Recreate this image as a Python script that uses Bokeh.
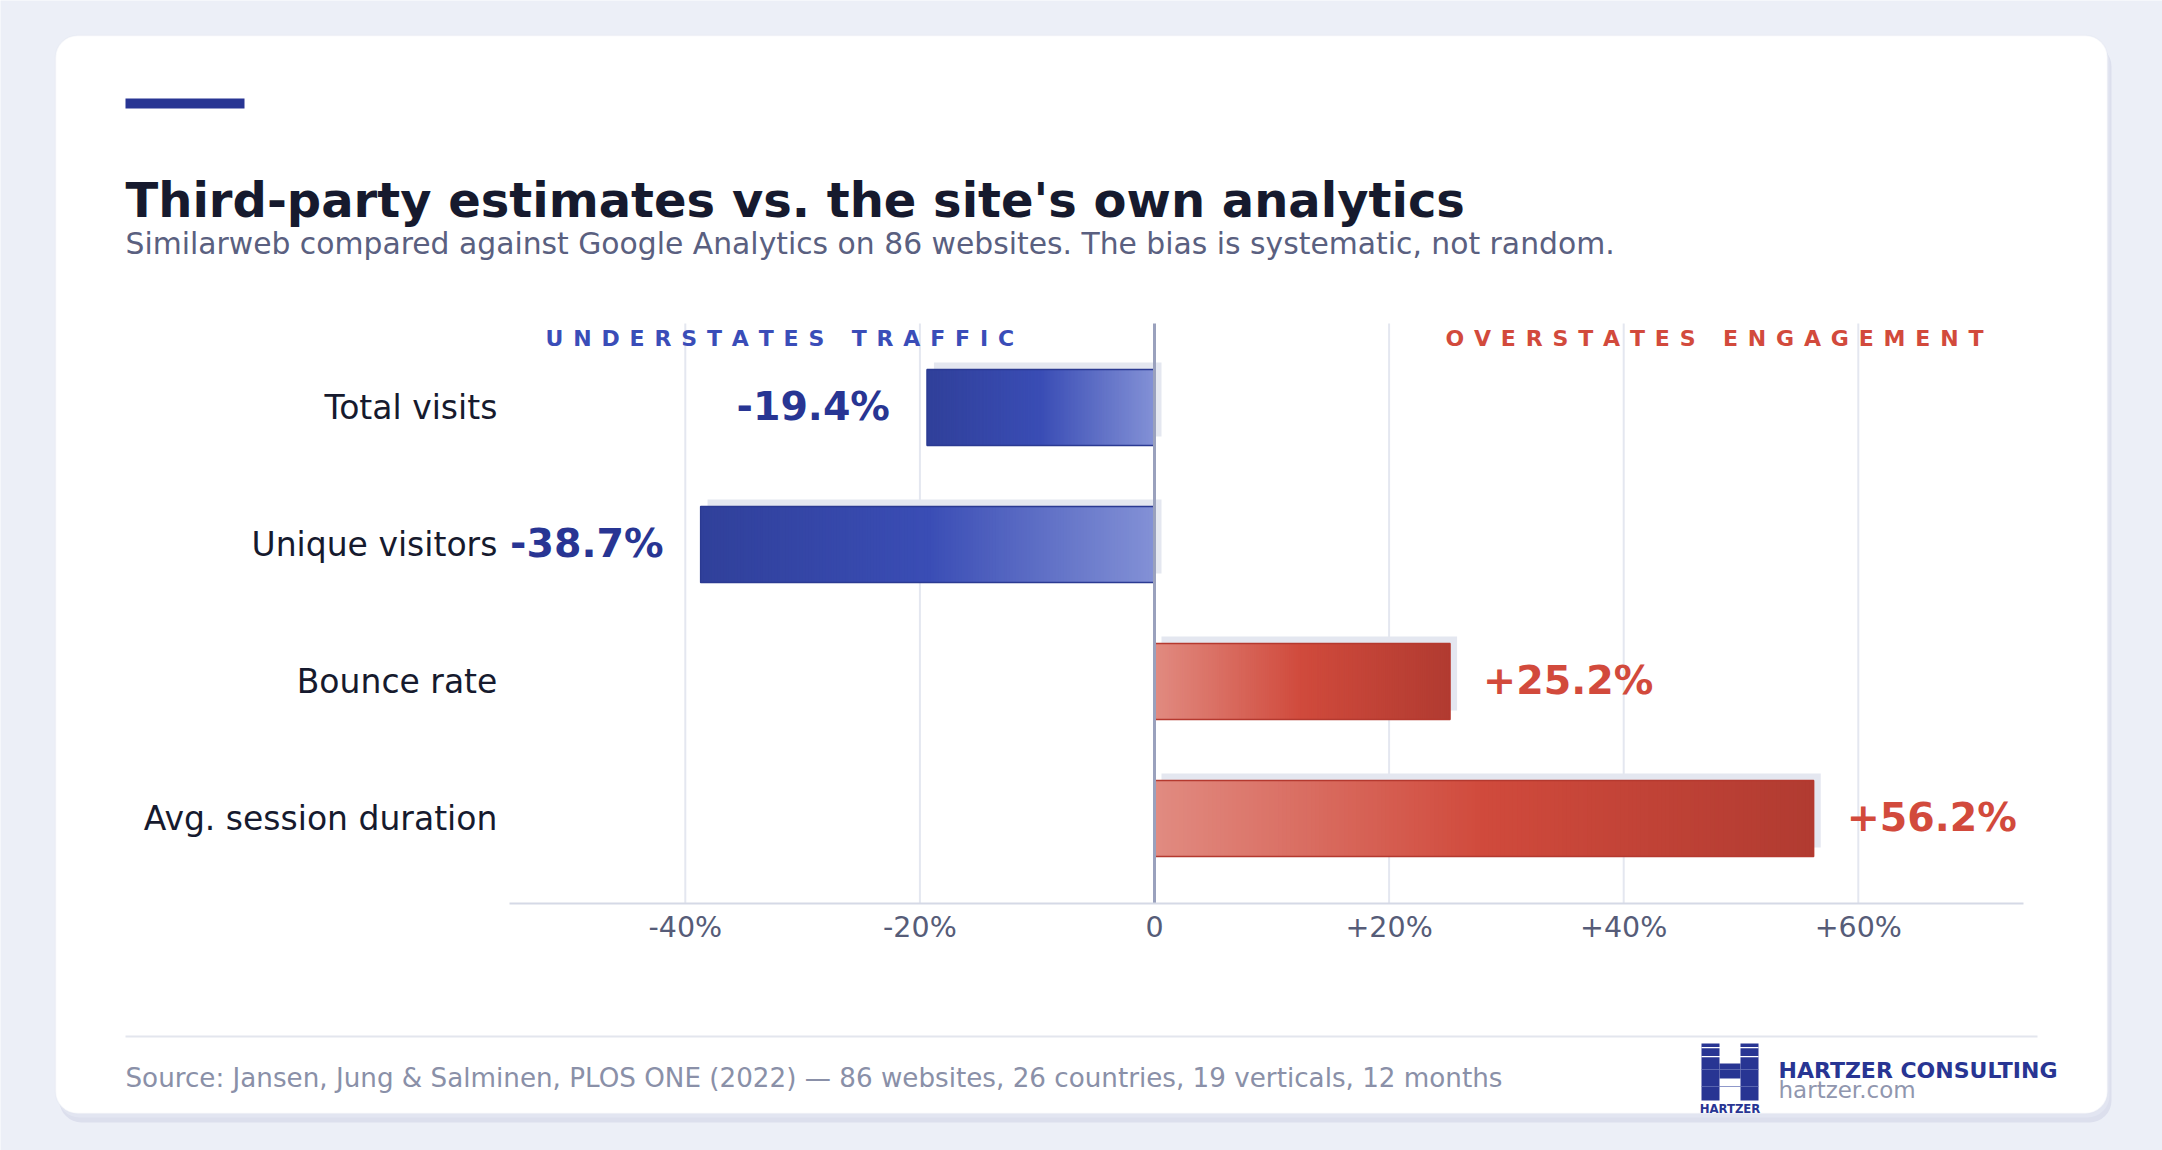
import re
from bokeh.plotting import figure
from bokeh.models import (ColumnDataSource, Range1d, FixedTicker, BoxAnnotation, Label)
from bokeh.core.properties import value
from bokeh.embed import file_html
from bokeh.resources import INLINE

# ---------------- data ----------------
metrics = ["Total visits", "Unique visitors", "Bounce rate", "Avg. session duration"]
deviation = [-19.4, -38.7, 25.2, 56.2]          # Similarweb vs Google Analytics, %
tick_values = [-40, -20, 0, 20, 40, 60]
tick_labels = ["-40%", "-20%", "0", "+20%", "+40%", "+60%"]
x_domain = (-55, 74.07)

title_text = "Third-party estimates vs. the site's own analytics"
subtitle_text = ("Similarweb compared against Google Analytics on 86 websites. "
                 "The bias is systematic, not random.")
left_header = "UNDERSTATES TRAFFIC"
right_header = "OVERSTATES ENGAGEMENT"
source_text = ("Source: Jansen, Jung & Salminen, PLOS ONE (2022) \u2014 86 websites, "
               "26 countries, 19 verticals, 12 months")
brand_name = "HARTZER CONSULTING"
brand_url = "hartzer.com"
brand_mark = "HARTZER"

# ---------------- style / layout ----------------
FONT = "DejaVu Sans"
PAGE_BG = "#eceff7"
INK = "#161a2e"
BLUE_TXT = "#283593"
RED_TXT = "#d24a3c"
BLUE_STOPS = [(0.0, "#8391d6"), (0.5, "#3a4db5"), (1.0, "#30409a")]
RED_STOPS = [(0.0, "#e18b81"), (0.5, "#d04a3c"), (1.0, "#b13b31")]

W, H = 2162, 1150
ZERO_X = 1154          # page x of the 0% line
PX_PCT = 11.73         # pixels per percentage point
FIRST_Y = 407          # page y of first category centre
PX_CAT = 137.0         # pixels between categories
n = len(metrics)
ypos = [n - 1 - i for i in range(n)]            # top category highest
Y_LO, Y_HI = -0.6204, n - 1 + 0.6131            # vertical extent of plot area (category units)


def sx(X):
    return X


def sy(Y):
    return H - Y


def hex2rgb(h):
    h = h.lstrip("#")
    return tuple(int(h[i:i + 2], 16) for i in (0, 2, 4))


def interp(stops, t):
    for (t0, c0), (t1, c1) in zip(stops[:-1], stops[1:]):
        if t0 <= t <= t1:
            f = (t - t0) / (t1 - t0)
            a, b = hex2rgb(c0), hex2rgb(c1)
            return "#%02x%02x%02x" % tuple(round(a[k] + (b[k] - a[k]) * f) for k in range(3))
    return stops[-1][1]


bottom_page = FIRST_Y + (n - 1) * PX_CAT
p = figure(width=W, height=H,
           x_range=Range1d(-ZERO_X / PX_PCT, (W - ZERO_X) / PX_PCT),
           y_range=Range1d((bottom_page - H) / PX_CAT, bottom_page / PX_CAT),
           output_backend="svg", toolbar_location=None,
           min_border_left=0, min_border_right=0, min_border_top=0, min_border_bottom=0)
p.border_fill_color = PAGE_BG
p.background_fill_color = PAGE_BG
p.outline_line_color = None
p.xgrid.visible = False
p.ygrid.visible = False


def box(l, r, t, b, color, level="annotation", **kw):
    p.add_layout(BoxAnnotation(left=sx(l), right=sx(r), top=sy(t), bottom=sy(b),
                               left_units="screen", right_units="screen", top_units="screen",
                               bottom_units="screen", fill_color=color, fill_alpha=1,
                               level=level, **kw))


# ---------------- card ----------------
box(59, 2111, 44, 1122, "#dcdfed", level="image", line_color=None, border_radius=22)
box(57, 2109, 40, 1117, "#e2e5f1", level="image", line_color=None, border_radius=22)
box(55, 2107, 35, 1113, "white", level="image", line_color="#e1e4ef", line_width=1.5,
    border_radius=22)
box(125, 244, 98, 108, BLUE_TXT, line_color=None)

BASE_FIX = 0.33   # renderer places "alphabetic" labels ~0.33em low; compensate


def label(text, X, Y, size, color, bold=False, align="left", font=FONT):
    Y = Y - BASE_FIX * size
    p.add_layout(Label(x=sx(X), y=sy(Y), x_units="screen", y_units="screen", text=text,
                       text_font=font, text_font_size="%gpx" % size, text_color=color,
                       text_font_style="bold" if bold else "normal",
                       text_align=align, text_baseline="alphabetic"))


label(title_text, 125, 215, 48, INK, bold=True)
label(subtitle_text, 125, 253, 29.8, "#5a6080")

# ---------------- axes & grid ----------------
p.xaxis.fixed_location = Y_LO
p.xaxis.bounds = x_domain
p.xaxis.ticker = FixedTicker(ticks=tick_values)
p.xaxis.major_label_overrides = dict(zip(tick_values, tick_labels))
p.xaxis.axis_line_color = "#d5d9e6"
p.xaxis.axis_line_width = 2
p.xaxis.major_tick_line_color = None
p.xaxis.minor_tick_line_color = None
p.xaxis.major_label_text_font = FONT
p.xaxis.major_label_text_font_size = "28.5px"
p.xaxis.major_label_text_color = "#565c78"
p.xaxis.major_label_standoff = 2

p.yaxis.fixed_location = x_domain[0]
p.yaxis.ticker = FixedTicker(ticks=ypos)
p.yaxis.major_label_overrides = dict(zip(ypos, metrics))
p.yaxis.axis_line_color = None
p.yaxis.major_tick_line_color = None
p.yaxis.minor_tick_line_color = None
p.yaxis.major_label_text_font = FONT
p.yaxis.major_label_text_font_size = "33px"
p.yaxis.major_label_text_color = INK
p.yaxis.major_label_standoff = 6

grid_x = [t for t in tick_values if t != 0]
p.segment(x0=grid_x, x1=grid_x, y0=[Y_LO] * len(grid_x), y1=[Y_HI] * len(grid_x),
          line_color="#e4e7f0", line_width=2)

# ---------------- bars ----------------
BAR_H = 76 / PX_CAT
SH_DX = 7 / PX_PCT
SH_DY = 8 / PX_CAT

p.hbar(y=[y + SH_DY for y in ypos],
       left=[min(0, v) + SH_DX for v in deviation],
       right=[max(0, v) + SH_DX for v in deviation],
       height=74 / PX_CAT, fill_color="#e4e7f0", line_color=None)

N = 160
seg = dict(y=[], left=[], right=[], color=[])
for yv, v in zip(ypos, deviation):
    stops = BLUE_STOPS if v < 0 else RED_STOPS
    for i in range(N):
        a = v * i / N
        b = v * min(i + 2.5, N) / N        # slices overlap to hide seams
        seg["y"].append(yv)
        seg["left"].append(min(a, b))
        seg["right"].append(max(a, b))
        seg["color"].append(interp(stops, (i + 0.5) / N))
p.hbar(y="y", left="left", right="right", height=BAR_H, source=ColumnDataSource(seg),
       fill_color="color", line_color=None)

p.hbar(y=ypos, left=[min(0, v) for v in deviation], right=[max(0, v) for v in deviation],
       height=BAR_H, fill_color=None,
       line_color=["#2b3a92" if v < 0 else "#b5392f" for v in deviation], line_width=1.3)

p.segment(x0=[0], x1=[0], y0=[Y_LO], y1=[Y_HI], line_color="#9aa1bd", line_width=3)

# ---------------- value labels ----------------
TXT_DY = 2 / PX_CAT
neg = ColumnDataSource(dict(y=[yv + TXT_DY for yv, v in zip(ypos, deviation) if v < 0],
                            x=[v for v in deviation if v < 0],
                            t=["%+.1f%%" % v for v in deviation if v < 0]))
pos = ColumnDataSource(dict(y=[yv + TXT_DY for yv, v in zip(ypos, deviation) if v >= 0],
                            x=[v for v in deviation if v >= 0],
                            t=["%+.1f%%" % v for v in deviation if v >= 0]))
p.text(x="x", y="y", text="t", source=neg,
       text_align="right", text_baseline="middle", x_offset=-37,
       text_font=value(FONT), text_font_style="bold", text_font_size="39.5px",
       text_color=BLUE_TXT)
p.text(x="x", y="y", text="t", source=pos,
       text_align="left", text_baseline="middle", x_offset=33,
       text_font=value(FONT), text_font_style="bold", text_font_size="39.5px",
       text_color=RED_TXT)

# ---------------- headers (letter-spaced) ----------------
LGAP = "\u00a0\u200a"
WGAP = "\u00a0\u200a\u00a0\u00a0\u200a"


def spaced(s):
    return WGAP.join(LGAP.join(w) for w in s.split(" "))


label(spaced(left_header), 545, 345, 22, "#3a4db8", bold=True)
label(spaced(right_header), 1983, 345, 22, RED_TXT, bold=True, align="right")

# ---------------- footer ----------------
box(125, 2037, 1035, 1037, "#e3e6ee", line_color=None)
label(source_text, 125, 1086, 26.2, "#8a90a8")
label(brand_name, 1778, 1077, 22, BLUE_TXT, bold=True)
label(brand_url, 1778, 1097, 23, "#9096ae")

# logo mark: a striped "H"
for (l, r, t, b, c) in [(1701, 1719, 1043, 1100, BLUE_TXT), (1740, 1758, 1043, 1100, BLUE_TXT),
                        (1719, 1740, 1063, 1078, BLUE_TXT),
                        (1701, 1758, 1046.5, 1047.8, "white"), (1701, 1758, 1055.5, 1056.8, "white"),
                        (1701, 1758, 1068.5, 1069.3, "#6a76b8"), (1701, 1758, 1085.5, 1086.3, "#6a76b8")]:
    box(l, r, t, b, c, line_color=None)
label(brand_mark, 1729.5, 1112, 13, BLUE_TXT, bold=True, align="center",
      font="DejaVu Sans Condensed")

html = file_html(p, INLINE, title="Third-party estimates vs. the site's own analytics")
html = re.sub(r"<body[^>]*>", '<body style="margin:0;background:%s;">' % PAGE_BG, html, count=1)
with open("out.html", "w") as f:
    f.write(html)
